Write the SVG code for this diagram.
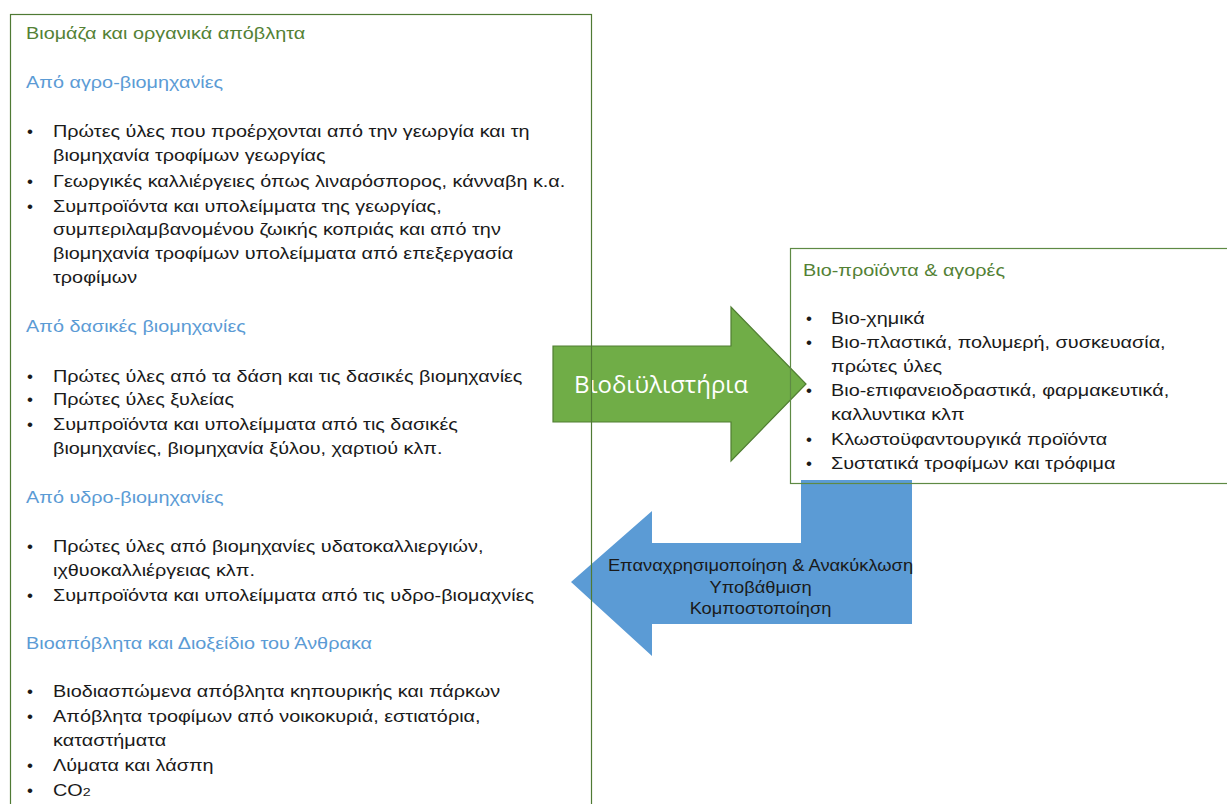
<svg xmlns="http://www.w3.org/2000/svg" width="1227" height="804" viewBox="0 0 1227 804">
<style>
text{font-family:"Liberation Sans",Arial,sans-serif;font-size:16px}
.t{fill:#1a1a1a}
.h{fill:#5B9BD5}
.g{fill:#538135}
.b{fill:#1a1a1a;font-size:17px}
.box{fill:none;stroke:#4F7A34;stroke-width:1.2}
.ar{fill:#1a1a1a;text-anchor:middle}
</style>
<rect width="1227" height="804" fill="#ffffff"/>
<g id="connectors">
  <g id="recycle-arrow">
    <path d="M801,480 H912 V624 H652 V656 L571,582 L652,511 V543 H801 Z" fill="#5B9BD5"/>
    <g transform="translate(760.5,0) scale(1.145,1)">
      <text class="ar" x="0" y="571">Επαναχρησιμοποίηση  &amp; Ανακύκλωση</text>
      <text class="ar" x="0" y="593">Υποβάθμιση</text>
      <text class="ar" x="0" y="614">Κομποστοποίηση</text>
    </g>
  </g>
  <g id="biorefinery-arrow">
    <path d="M553,346 H731 V307 L806,384 L731,461 V422 H553 Z" fill="#70AD47" stroke="#507E32" stroke-width="1.2"/>
    <text x="661" y="393" fill="#ffffff" text-anchor="middle" style="font-family:'Open Sans','Liberation Sans',sans-serif;font-size:24px">Βιοδιϋλιστήρια</text>
  </g>
</g>
<g id="biomass">
  <rect class="box" x="10.5" y="14.5" width="581" height="800"/>
  <g transform="translate(26,0) scale(1.24,1)">
    <text class="g" x="0" y="39">Βιομάζα και οργανικά απόβλητα</text>
    <text class="h" x="0" y="88">Από αγρο-βιομηχανίες</text>
    <text class="h" x="0" y="332">Από δασικές βιομηχανίες</text>
    <text class="h" x="0" y="503">Από υδρο-βιομηχανίες</text>
    <text class="h" x="0" y="649">Βιοαπόβλητα και Διοξείδιο του Άνθρακα</text>
  </g>
  <g>
    <text class="b" x="27" y="137">•</text>
    <text class="b" x="27" y="187">•</text>
    <text class="b" x="27" y="212">•</text>
    <text class="b" x="27" y="382">•</text>
    <text class="b" x="27" y="405">•</text>
    <text class="b" x="27" y="430">•</text>
    <text class="b" x="27" y="552">•</text>
    <text class="b" x="27" y="601">•</text>
    <text class="b" x="27" y="697">•</text>
    <text class="b" x="27" y="722">•</text>
    <text class="b" x="27" y="771">•</text>
    <text class="b" x="27" y="796">•</text>
  </g>
  <g transform="translate(53,0) scale(1.24,1)">
    <text class="t" x="0" y="137">Πρώτες ύλες που προέρχονται από την γεωργία και τη</text>
    <text class="t" x="0" y="161">βιομηχανία τροφίμων γεωργίας</text>
    <text class="t" x="0" y="187">Γεωργικές καλλιέργειες όπως λιναρόσπορος, κάνναβη κ.α.</text>
    <text class="t" x="0" y="212">Συμπροϊόντα και υπολείμματα της γεωργίας,</text>
    <text class="t" x="0" y="235">συμπεριλαμβανομένου ζωικής κοπριάς και από την</text>
    <text class="t" x="0" y="259">βιομηχανία τροφίμων υπολείμματα από επεξεργασία</text>
    <text class="t" x="0" y="283">τροφίμων</text>
    <text class="t" x="0" y="382">Πρώτες ύλες από τα δάση και τις δασικές βιομηχανίες</text>
    <text class="t" x="0" y="405">Πρώτες ύλες ξυλείας</text>
    <text class="t" x="0" y="430">Συμπροϊόντα και υπολείμματα από τις δασικές</text>
    <text class="t" x="0" y="454">βιομηχανίες, βιομηχανία ξύλου, χαρτιού κλπ.</text>
    <text class="t" x="0" y="552">Πρώτες ύλες από βιομηχανίες υδατοκαλλιεργιών,</text>
    <text class="t" x="0" y="576">ιχθυοκαλλιέργειας κλπ.</text>
    <text class="t" x="0" y="601">Συμπροϊόντα και υπολείμματα από τις υδρο-βιομαχνίες</text>
    <text class="t" x="0" y="697">Βιοδιασπώμενα απόβλητα κηπουρικής και πάρκων</text>
    <text class="t" x="0" y="722">Απόβλητα τροφίμων από νοικοκυριά, εστιατόρια,</text>
    <text class="t" x="0" y="746">καταστήματα</text>
    <text class="t" x="0" y="771">Λύματα και λάσπη</text>
    <text class="t" x="0" y="796">CO<tspan style="font-size:11.5px">2</tspan></text>
  </g>
</g>
<g id="bioproducts">
  <rect class="box" x="790.5" y="248.5" width="450" height="235" style="stroke:#5E8A44"/>
  <g transform="translate(803,0) scale(1.24,1)">
    <text class="g" x="0" y="276">Βιο-προϊόντα &amp; αγορές</text>
  </g>
  <g>
    <text class="b" x="806" y="324">•</text>
    <text class="b" x="806" y="348">•</text>
    <text class="b" x="806" y="396">•</text>
    <text class="b" x="806" y="445">•</text>
    <text class="b" x="806" y="469">•</text>
  </g>
  <g transform="translate(831,0) scale(1.24,1)">
    <text class="t" x="0" y="324">Βιο-χημικά</text>
    <text class="t" x="0" y="348">Βιο-πλαστικά, πολυμερή, συσκευασία,</text>
    <text class="t" x="0" y="372">πρώτες ύλες</text>
    <text class="t" x="0" y="396">Βιο-επιφανειοδραστικά, φαρμακευτικά,</text>
    <text class="t" x="0" y="420">καλλυντικα κλπ</text>
    <text class="t" x="0" y="445">Κλωστοϋφαντουργικά προϊόντα</text>
    <text class="t" x="0" y="469">Συστατικά τροφίμων και τρόφιμα</text>
  </g>
</g>
</svg>
